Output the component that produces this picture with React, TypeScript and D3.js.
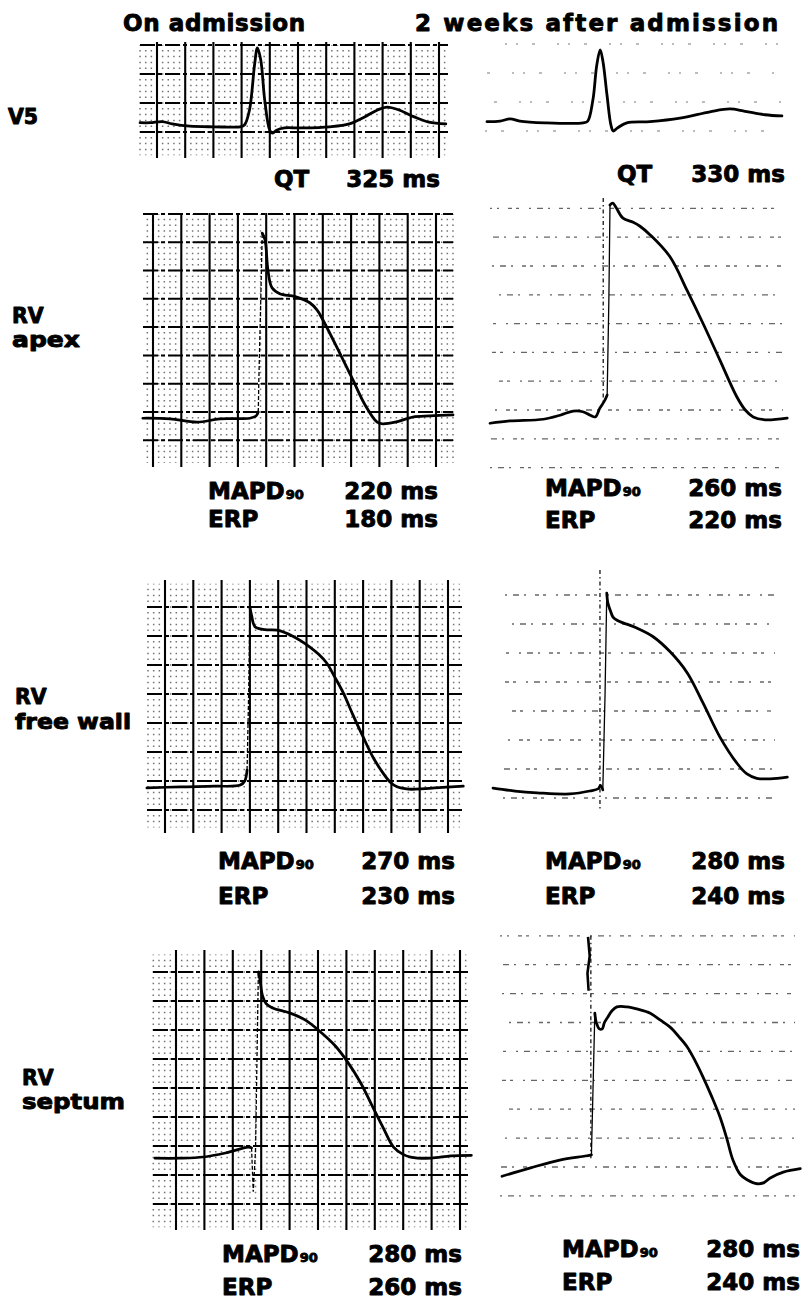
import React from "react";
import * as d3 from "d3";

type Pt = [number, number]; // [time in ms, deflection in paper mm]

const FONT = "'DejaVu Sans', 'Liberation Sans', Arial, sans-serif";

// ---- column titles, lead names, measurements ----
const titles = ["On admission", "2 weeks after admission"];
const leadNames = [["V5"], ["RV", "apex"], ["RV", "free wall"], ["RV", "septum"]];
const qtValues = ["325 ms", "330 ms"];
const mapdValues = [["220 ms", "260 ms"], ["270 ms", "280 ms"], ["280 ms", "280 ms"]];
const erpValues = [["180 ms", "220 ms"], ["230 ms", "240 ms"], ["260 ms", "240 ms"]];

// ---- V5 surface ECG ----
const v5Adm: Pt[] = [
  [-30, 1.6], [-12, 1.6], [9, 1.8], [27, 1.4], [58, 1.0], [102, 0.9], [147, 0.9], [155, 1.2],
  [164, 3.8], [173, 11.6], [178, 14.5], [184, 12.4], [191, 5.5], [200, 0.3], [205, -0.2],
  [212, 0.3], [226, 0.7], [253, 0.7], [306, 0.9], [341, 1.4], [368, 2.6], [391, 3.8],
  [408, 4.3], [429, 3.8], [456, 2.6], [482, 1.7], [512, 1.4],
];
const v5Wk: Pt[] = [
  [0, 1.6], [23, 1.7], [41, 2.1], [58, 1.7], [102, 1.4], [170, 1.4], [178, 1.7], [187, 5.3],
  [194, 11.4], [200, 14.0], [205, 11.9], [212, 6.2], [219, 1.0], [223, 0], [230, 0.5],
  [247, 1.4], [288, 1.6], [341, 2.2], [394, 3.3], [429, 3.8], [456, 3.4], [491, 2.8], [521, 2.6],
];

// ---- RV apex MAP ----
const apexAdmPre: Pt[] = [[-18, -1.1], [30, -1.2], [78, -1.8], [118, -1.2], [171, -1.1], [182, -0.7], [186, 0]];
const apexAdmUp: Pt[] = [[186, 0], [187, 5.6], [190, 18], [193, 31.6]];
const apexAdmAp: Pt[] = [
  [193, 31.6], [198, 30.4], [203, 25.1], [210, 22.0], [224, 20.9], [251, 20.4], [277, 19.3],
  [290, 18.0], [300, 16.3], [327, 11.0], [353, 5.7], [375, 1.2], [396, -1.8], [406, -2.1],
  [428, -1.8], [459, -0.9], [489, -0.7], [530, -0.5],
];
const apexWkPre: Pt[] = [
  [0, -2.3], [35, -1.9], [94, -1.6], [124, -0.9], [147, -0.2], [164, -0.3], [177, -0.9],
  [186, -1.2], [194, 0.3], [203, 1.7], [207, 2.6],
];
const apexWkUp: Pt[] = [[207, 2.6], [210, 19.1], [212, 35.6]];
const apexWkAp: Pt[] = [
  [212, 35.6], [217, 35.9], [223, 35.1], [235, 33.3], [253, 32.6], [265, 31.9], [283, 30.4],
  [318, 26.6], [348, 20.8], [376, 15.1], [406, 8.7], [436, 2.3], [451, 0], [465, -1.2],
  [486, -1.7], [525, -1.4],
];
const apexWkStim = { t: 200, from: 36.8, to: 1.2 };

// ---- RV free wall MAP ----
const fwAdmPre: Pt[] = [[-32, -1.2], [27, -1.0], [88, -0.9], [133, -0.7], [141, 0], [145, 1.9]];
const fwAdmUp: Pt[] = [[145, 1.9], [148, 16], [150, 30.0]];
const fwAdmAp: Pt[] = [
  [150, 30.0], [153, 28.5], [159, 26.6], [177, 26.1], [198, 26.0], [225, 25.0], [256, 23.1],
  [272, 21.8], [286, 20.3], [300, 17.9], [315, 15.2], [332, 11.4], [350, 7.6], [368, 4.0],
  [385, 1.4], [398, -0.2], [410, -1.0], [430, -1.4], [460, -1.3], [490, -1.1], [527, -0.9],
];
const fwWkPre: Pt[] = [[0, 1.7], [39, 1.2], [78, 0.9], [136, 0.7], [171, 1.2], [186, 1.6], [190, 2.2], [194, 1.4]];
const fwWkUp: Pt[] = [[194, 1.4], [198, 18], [201, 35.3]];
const fwWkAp: Pt[] = [
  [201, 35.3], [203, 33.6], [207, 32.4], [212, 31.2], [220, 30.6], [230, 30.2], [254, 29.3],
  [283, 27.8], [313, 25.2], [343, 21.6], [371, 16.4], [401, 10.5], [431, 6.0], [448, 4.2],
  [466, 3.4], [490, 3.3], [520, 3.6],
];
const fwWkStim = { t: 189, from: 39.3, to: -2.1 };

// ---- RV septum MAP ----
const septAdmPre: Pt[] = [[-37, -2.1], [7, -2.1], [48, -1.9], [87, -1.2], [127, -0.2], [133, -0.3]];
const septAdmUp: Pt[] = [[133, -0.3], [136, -7.9], [140, -0.7], [145, 30.0]];
const septAdmAp: Pt[] = [
  [145, 30.0], [148, 28.6], [152, 26.0], [159, 24.5], [170, 23.8], [201, 22.9], [228, 21.7],
  [254, 19.7], [281, 17.2], [302, 14.5], [325, 10.9], [343, 7.4], [364, 3.3], [383, -0.2],
  [399, -1.4], [413, -1.9], [449, -2.1], [484, -1.7], [520, -1.6],
];
const septWkPre: Pt[] = [[0, -1.6], [49, -0.2], [102, 1.2], [147, 1.9], [158, 2.1]];
const septWkUp: Pt[] = [[158, 2.1], [164, 26.6]];
const septWkAp: Pt[] = [
  [164, 26.6], [166, 25.2], [168, 24.6], [172, 23.9], [177, 23.9], [181, 25.0], [186, 25.8],
  [194, 27.0], [203, 27.7], [221, 27.7], [240, 27.3], [262, 26.6], [280, 25.4], [297, 24.2],
  [312, 22.6], [327, 20.8], [341, 18.4], [355, 15.6], [370, 12.3], [385, 8.7], [397, 5.0],
  [408, 1.2], [421, -1.3], [433, -2.2], [451, -2.9], [463, -2.7], [474, -1.9], [497, -0.9], [527, -0.3],
];
const septWkStim = { t: 157, from: 40, to: 1.2 };
const septWkArtifact: Pt[] = [[152, 39.8], [155, 36.5], [151, 33.5], [153, 30.5]];

// ---- panel frames (pixels) ----
interface Frame {
  left: number; right: number; top: number; bottom: number;
  x0: number; y0: number; sqW: number; sqH: number; paper: boolean; faint?: boolean;
}
interface PanelDef {
  f: Frame; pre?: Pt[]; up?: Pt[]; ap: Pt[];
  stim?: { t: number; from: number; to: number }; artifact?: Pt[];
}

const panels: PanelDef[] = [
  { f: { left: 140, right: 448, top: 42, bottom: 158, x0: 157, y0: 132, sqW: 28.2, sqH: 29, paper: true }, ap: v5Adm },
  { f: { left: 485, right: 782, top: 40, bottom: 140, x0: 487, y0: 131, sqW: 28.3, sqH: 29, paper: false, faint: true }, ap: v5Wk },
  { f: { left: 143, right: 453, top: 213, bottom: 467, x0: 153, y0: 412, sqW: 28.3, sqH: 28.3, paper: true }, pre: apexAdmPre, up: apexAdmUp, ap: apexAdmAp },
  { f: { left: 490, right: 783, top: 205, bottom: 470, x0: 490, y0: 410, sqW: 28.3, sqH: 28.8, paper: false }, pre: apexWkPre, up: apexWkUp, ap: apexWkAp, stim: apexWkStim },
  { f: { left: 147, right: 463, top: 580, bottom: 833, x0: 165, y0: 781, sqW: 28.3, sqH: 29, paper: true }, pre: fwAdmPre, up: fwAdmUp, ap: fwAdmAp },
  { f: { left: 503, right: 775, top: 590, bottom: 815, x0: 493, y0: 798, sqW: 28.3, sqH: 29, paper: false }, pre: fwWkPre, up: fwWkUp, ap: fwWkAp, stim: fwWkStim },
  { f: { left: 153, right: 470, top: 950, bottom: 1230, x0: 176, y0: 1146, sqW: 28.4, sqH: 29, paper: true }, pre: septAdmPre, up: septAdmUp, ap: septAdmAp },
  { f: { left: 500, right: 795, top: 933, bottom: 1200, x0: 502, y0: 1167, sqW: 28.3, sqH: 28.9, paper: false }, pre: septWkPre, up: septWkUp, ap: septWkAp, stim: septWkStim, artifact: septWkArtifact },
];

function Panel({ p }: { p: PanelDef }) {
  const f = p.f;
  const x = d3.scaleLinear().domain([0, 50]).range([f.x0, f.x0 + f.sqW]);
  const y = d3.scaleLinear().domain([0, 5]).range([f.y0, f.y0 - f.sqH]);
  const tMin = x.invert(f.left), tMax = x.invert(f.right);
  const aMin = y.invert(f.bottom), aMax = y.invert(f.top);
  const hMajor = d3.range(Math.ceil(aMin / 5) * 5, aMax, 5);

  const smooth = d3.line<Pt>().x(d => x(d[0])).y(d => y(d[1])).curve(d3.curveCatmullRom.alpha(0.5));
  const straight = d3.line<Pt>().x(d => x(d[0])).y(d => y(d[1]));

  let grid: React.ReactNode;
  if (f.paper) {
    const vMajor = d3.range(Math.ceil(tMin / 50) * 50, tMax, 50);
    const vMinor = d3.range(Math.ceil(tMin / 10) * 10, tMax, 10).filter(t => Math.abs(t % 50) > 1e-6);
    const dotGap = f.sqH / 5;
    grid = (
      <g>
        {vMinor.map(t => (
          <line key={"m" + t} x1={x(t)} x2={x(t)} y1={y(Math.floor(aMax))} y2={y(Math.ceil(aMin))}
            stroke="#000" strokeOpacity={0.55} strokeWidth={1.5}
            strokeDasharray={`1.5 ${dotGap - 1.5}`} strokeDashoffset={0.75} />
        ))}
        {hMajor.map(a => (
          <line key={"h" + a} x1={f.left} x2={f.right} y1={y(a)} y2={y(a)}
            stroke="#000" strokeWidth={2} strokeDasharray="15 3 4 3" />
        ))}
        {vMajor.map(t => (
          <line key={"v" + t} x1={x(t)} x2={x(t)} y1={f.top} y2={f.bottom} stroke="#000" strokeWidth={2.1} />
        ))}
      </g>
    );
  } else {
    grid = (
      <g>
        {hMajor.map((a, i) => (
          <line key={"h" + a} x1={f.left} x2={f.right} y1={y(a)} y2={y(a)}
            stroke="#000" strokeOpacity={f.faint ? 0.35 : 0.6} strokeWidth={1.3}
            strokeDasharray={f.faint ? "2 14 3 22 2 9" : "2 6 6 5 2 9 4 4 3 10"} strokeDashoffset={i * 7} />
        ))}
      </g>
    );
  }

  return (
    <g>
      {grid}
      {p.stim && (
        <line x1={x(p.stim.t)} x2={x(p.stim.t)} y1={y(p.stim.from)} y2={y(p.stim.to)}
          stroke="#000" strokeWidth={1.2} strokeDasharray="4 3 1.5 3" />
      )}
      {p.artifact && <path d={straight(p.artifact) || ""} fill="none" stroke="#000" strokeWidth={2.6} />}
      {p.pre && <path d={smooth(p.pre) || ""} fill="none" stroke="#000" strokeWidth={2.7} strokeLinecap="round" />}
      {p.up && (
        <path d={straight(p.up) || ""} fill="none" stroke="#000" strokeWidth={1.3}
          strokeDasharray={f.paper ? "4 2" : undefined} />
      )}
      <path d={smooth(p.ap) || ""} fill="none" stroke="#000" strokeWidth={2.8} strokeLinecap="round" strokeLinejoin="round" />
    </g>
  );
}

// label positions
const titlePos = [{ x: 123, y: 31, w: 182 }, { x: 415, y: 31, w: 363 }];
const leadPos = [{ x: 8, y: [124] }, { x: 12, y: [323, 347] }, { x: 15, y: [704, 729] }, { x: 22, y: [1085, 1109] }];
const qtPos = [{ x: 274, end: 440, y: 187 }, { x: 617, end: 785, y: 182 }];
const mapdPos = [
  [{ x: 208, end: 438, y: 499, y2: 527 }, { x: 545, end: 782, y: 496, y2: 528 }],
  [{ x: 218, end: 455, y: 869, y2: 904 }, { x: 545, end: 785, y: 869, y2: 904 }],
  [{ x: 222, end: 462, y: 1262, y2: 1295 }, { x: 562, end: 800, y: 1257, y2: 1290 }],
];

export default function App() {
  return (
    <svg width={804} height={1301} style={{ position: "absolute", left: 0, top: 0, background: "#fff" }}
      fontFamily={FONT} fontWeight="bold" fontSize={23}>
      <rect width={804} height={1301} fill="#fff" />
      {panels.map((p, i) => <Panel key={i} p={p} />)}

      <g stroke="#000" strokeWidth={0.9} strokeLinejoin="round">
        {titles.map((t, i) => (
          <text key={t} x={titlePos[i].x} y={titlePos[i].y} textLength={titlePos[i].w} lengthAdjust="spacing">{t}</text>
        ))}
        {leadNames.map((lines, i) => lines.map((s, j) => (
          <text key={i + "-" + j} x={leadPos[i].x} y={leadPos[i].y[j]} fontSize={20.5}
            textLength={s === "free wall" ? 116 : s === "septum" ? 103 : s === "apex" ? 68 : undefined}
            lengthAdjust="spacingAndGlyphs">{s}</text>
        )))}
        {qtValues.map((v, i) => (
          <g key={v + i}>
            <text x={qtPos[i].x} y={qtPos[i].y}>QT</text>
            <text x={qtPos[i].end} y={qtPos[i].y} textAnchor="end">{v}</text>
          </g>
        ))}
        {mapdValues.map((row, r) => row.map((v, c) => {
          const pos = mapdPos[r][c];
          return (
            <g key={r + "-" + c}>
              <text x={pos.x} y={pos.y}>MAPD<tspan fontSize={13} dx={1}>90</tspan></text>
              <text x={pos.end} y={pos.y} textAnchor="end">{v}</text>
              <text x={pos.x} y={pos.y2}>ERP</text>
              <text x={pos.end} y={pos.y2} textAnchor="end">{erpValues[r][c]}</text>
            </g>
          );
        }))}
      </g>
    </svg>
  );
}
